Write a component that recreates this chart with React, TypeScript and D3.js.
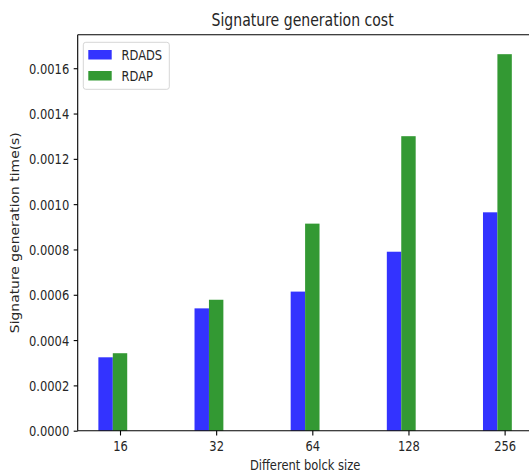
import React, { useEffect, useRef } from 'react';
import * as d3 from 'd3';

// block sizes on the x axis
const blockSizes = ['16', '32', '64', '128', '256'];
// signature generation time (s)
const rdadsTimes = [0.000324, 0.00054, 0.000614, 0.00079, 0.000964];
const rdapTimes = [0.000342, 0.000578, 0.000914, 0.0013, 0.001662];
const yTickValues = [0, 0.0002, 0.0004, 0.0006, 0.0008, 0.001, 0.0012, 0.0014, 0.0016];
const seriesNames = ['RDADS', 'RDAP'];

const WIDTH = 529;
const HEIGHT = 473;
const SX = 0.827; // the source image is squeezed horizontally
const FONT = '"DejaVu Sans", sans-serif';

const App = () => {
    const svgRef = useRef<SVGSVGElement>(null);

    useEffect(() => {
        const margin = { top: 34.7, left: 77.7, bottom: 430.7, right: 532.5 };
        const barWidth = 0.15;
        const colors = ['#3333ff', '#339933'];

        const svg = d3.select(svgRef.current);
        svg.selectAll('*').remove();

        const xScale = d3.scaleLinear()
            .domain([-0.44, 4.29])
            .range([margin.left, margin.right]);

        const yScale = d3.scaleLinear()
            .domain([0, 0.001748])
            .range([margin.bottom, margin.top]);

        svg.append('rect')
            .attr('width', WIDTH)
            .attr('height', HEIGHT)
            .attr('fill', '#ffffff');

        // bars: RDADS left of the tick, RDAP centred on it
        const series = [rdadsTimes, rdapTimes];
        series.forEach((values, si) => {
            svg.append('g')
                .selectAll('rect')
                .data(values)
                .enter()
                .append('rect')
                .attr('x', (d, i) => xScale(i + (si === 0 ? -barWidth : 0) - barWidth / 2))
                .attr('width', (d, i) => xScale(barWidth) - xScale(0))
                .attr('y', d => yScale(d))
                .attr('height', d => yScale(0) - yScale(d))
                .attr('fill', colors[si]);
        });

        // y axis
        const yAxis = svg.append('g')
            .attr('transform', `translate(${margin.left},0)`)
            .call(d3.axisLeft(yScale)
                .tickValues(yTickValues)
                .tickFormat(d3.format('.4f'))
                .tickSize(4)
                .tickSizeOuter(0));
        yAxis.select('.domain').remove();
        yAxis.selectAll('line').attr('stroke', '#000').attr('stroke-width', 1.1);
        yAxis.selectAll('text')
            .attr('x', 0)
            .attr('dy', '0.36em')
            .attr('transform', `translate(-8.5,0) scale(${SX},1)`)
            .style('font-family', FONT)
            .style('font-size', '13.9px')
            .attr('fill', '#262626');

        // x axis
        const xAxis = svg.append('g')
            .attr('transform', `translate(0,${margin.bottom})`)
            .call(d3.axisBottom(xScale)
                .tickValues(d3.range(blockSizes.length))
                .tickFormat((d: any) => blockSizes[d])
                .tickSize(4.8)
                .tickSizeOuter(0));
        xAxis.select('.domain').remove();
        xAxis.selectAll('line').attr('stroke', '#000').attr('stroke-width', 1.1);
        xAxis.selectAll('text')
            .attr('y', 0)
            .attr('dy', 0)
            .attr('transform', `translate(0,20.3) scale(${SX},1)`)
            .style('font-family', FONT)
            .style('font-size', '13.9px')
            .attr('fill', '#262626');

        // spines (right one falls outside the crop)
        const spine = svg.append('g').attr('stroke', '#000').attr('stroke-width', 1.1);
        spine.append('line')
            .attr('x1', margin.left).attr('x2', margin.left)
            .attr('y1', margin.top).attr('y2', margin.bottom);
        spine.append('line')
            .attr('x1', margin.left).attr('x2', margin.right)
            .attr('y1', margin.bottom).attr('y2', margin.bottom);
        spine.append('line')
            .attr('x1', margin.left).attr('x2', margin.right)
            .attr('y1', margin.top).attr('y2', margin.top);

        const centerX = (margin.left + margin.right) / 2;

        // title
        svg.append('text')
            .attr('transform', `translate(${centerX - 2.5},26) scale(${SX},1)`)
            .attr('text-anchor', 'middle')
            .style('font-family', FONT)
            .style('font-size', '17px')
            .attr('fill', '#262626')
            .text('Signature generation cost');

        // axis labels
        svg.append('text')
            .attr('transform', `translate(${centerX},470) scale(${SX},1)`)
            .attr('text-anchor', 'middle')
            .style('font-family', FONT)
            .style('font-size', '13.9px')
            .attr('fill', '#262626')
            .text('Different bolck size');

        svg.append('text')
            .attr('transform', `translate(19,${(margin.top + margin.bottom) / 2}) scale(${SX},1) rotate(-90)`)
            .attr('text-anchor', 'middle')
            .style('font-family', FONT)
            .style('font-size', '13.9px')
            .attr('fill', '#262626')
            .text('Signature generation time(s)');

        // legend
        const legend = svg.append('g');
        legend.append('rect')
            .attr('x', 83.3)
            .attr('y', 42.3)
            .attr('width', 86)
            .attr('height', 47)
            .attr('rx', 2.5)
            .attr('fill', '#ffffff')
            .attr('fill-opacity', 0.8)
            .attr('stroke', '#d6d6d6')
            .attr('stroke-width', 1);

        seriesNames.forEach((name, i) => {
            const y = 50 + i * 21;
            legend.append('rect')
                .attr('x', 88.3)
                .attr('y', y)
                .attr('width', 23.4)
                .attr('height', 9.5)
                .attr('fill', colors[i]);
            legend.append('text')
                .attr('transform', `translate(121.5,${y + 9.7}) scale(${SX},1)`)
                .style('font-family', FONT)
                .style('font-size', '13.9px')
                .attr('fill', '#262626')
                .text(name);
        });
    }, []);

    return (
        <div style={{ position: 'absolute', left: 0, top: 0, width: WIDTH, height: HEIGHT, overflow: 'hidden' }}>
            <svg ref={svgRef} width={WIDTH} height={HEIGHT}></svg>
        </div>
    );
};

export default App;
